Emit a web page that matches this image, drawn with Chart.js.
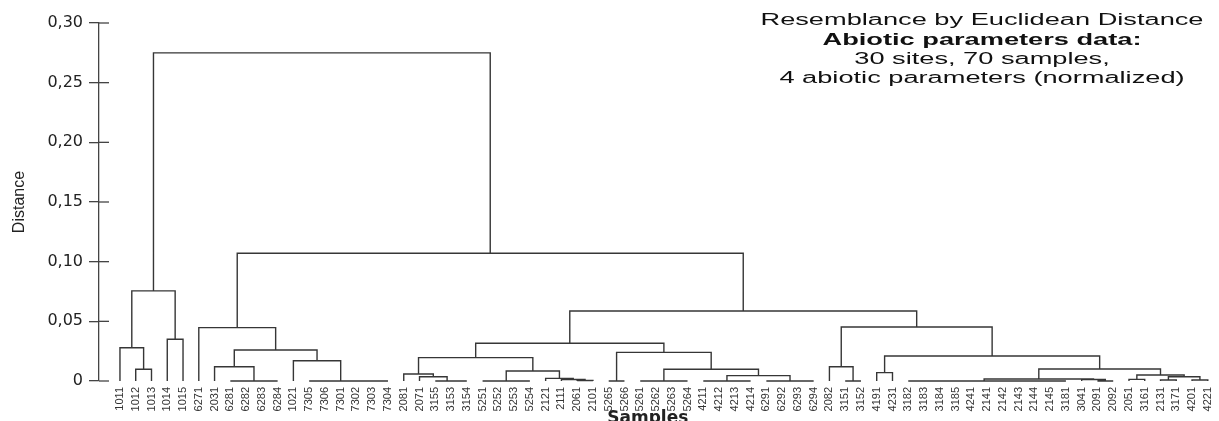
<!DOCTYPE html>
<html><head><meta charset="utf-8">
<script src="https://cdn.jsdelivr.net/npm/chart.js@4"></script>
<style>html,body{margin:0;padding:0;background:#fff}#wrap{width:1219px;height:421px;position:relative}</style>
</head><body><div id="wrap"><canvas id="c"></canvas></div>
<script>
// Leaf order along the x axis (tick labels)
const leafLabels = ["1011","1012","1013","1014","1015","6271","2031","6281","6282","6283","6284","1021",
  "7305","7306","7301","7302","7303","7304","2081","2071","3155","3153","3154","5251","5252","5253","5254",
  "2121","2111","2061","2101","5265","5266","5261","5262","5263","5264","4211","4212","4213","4214",
  "6291","6292","6293","6294","2082","3151","3152","4191","4231","3182","3183","3184","3185","4241",
  "2141","2142","2143","2144","2145","3181","3041","2091","2092","2051","3161","2131","3171","4201","4221"];

// Merges: [left, right, distance]; a string is a leaf, a number is an earlier merge index
const merges = [
  ["1012","1013",0.0098], ["1011",0,0.0279], ["1014","1015",0.035], [1,2,0.0755],
  ["6281","6282",0], ["6283","6284",0], [4,5,0], ["2031",6,0.012],
  ["7305","7306",0], ["7301","7302",0], ["7303","7304",0], [9,10,0], [8,11,0],
  ["1021",12,0.017], [7,13,0.026], ["6271",14,0.0447],
  ["3153","3154",0], ["3155",16,0], ["2071",17,0.0036], ["2081",18,0.0059],
  ["5251","5252",0], ["5253","5254",0], [20,21,0],
  ["2061","2101",0.0004], ["2111",23,0.0013], ["2121",24,0.0022], [22,25,0.0084], [19,26,0.0196],
  ["5265","5266",0], ["5261","5262",0], ["5263","5264",0], [29,30,0],
  ["4211","4212",0], ["4213","4214",0], [32,33,0],
  ["6291","6292",0], ["6293","6294",0], [35,36,0], [34,37,0.0045], [31,38,0.0098],
  [28,39,0.024], [27,40,0.0316],
  ["3151","3152",0], ["2082",42,0.012], ["4191","4231",0.007],
  ["3182","3183",0], ["3185","4241",0], ["3184",46,0], [45,47,0],
  ["2141","2142",0], ["2143","2144",0], ["2145","3181",0], [49,50,0], [52,51,0], [48,53,0],
  ["2091","2092",0], ["3041",55,0.0012], [54,56,0.0017],
  ["2051","3161",0.0014], ["2131","3171",0.0008], ["4201","4221",0.0008], [59,60,0.0036], [58,61,0.005],
  [57,62,0.010], [44,63,0.021], [43,64,0.0453], [41,65,0.0587], [15,66,0.107], [3,67,0.275]
];

const yTickValues = [0,0.05,0.10,0.15,0.20,0.25,0.30];
const titleLines = ["Resemblance by Euclidean Distance","Abiotic parameters data:","30 sites, 70 samples,","4 abiotic parameters (normalized)"];
const yTitle = "Distance";
const xTitle = "Samples";

// Build dendrogram path from the merges
const nodeX = [], nodeH = [];
function ref(r){
  if (typeof r === 'number') return {x: nodeX[r], h: nodeH[r]};
  return {x: leafLabels.indexOf(r), h: 0};
}
const segs = [];
merges.forEach((m,k)=>{
  const a = ref(m[0]), b = ref(m[1]), h = m[2];
  segs.push({x:a.x,y:a.h},{x:a.x,y:h},{x:b.x,y:h},{x:b.x,y:b.h},{x:b.x,y:null});
  nodeX[k] = (a.x+b.x)/2; nodeH[k] = h;
});

const LINE = '#363636';
const tickExt = {id:'tickExt', afterDraw(chart){
  const y = chart.scales.y, c = chart.ctx;
  c.save(); c.strokeStyle = '#444'; c.lineWidth = 1.3;
  y.ticks.forEach(t=>{ const py = y.getPixelForValue(t.value);
    c.beginPath(); c.moveTo(y.right, py); c.lineTo(y.right+10, py); c.stroke(); });
  c.restore();
}};
const titleBlock = {id:'titleBlock', afterDraw(chart){
  const c = chart.ctx;
  const cx = 982, base = [25,44.5,64,83];
  c.save(); c.fillStyle = '#111'; c.textAlign = 'center'; c.textBaseline = 'alphabetic';
  titleLines.forEach((t,i)=>{
    c.save(); c.translate(cx, base[i]); c.scale(1.7,1);
    c.font = (i===1?'bold ':'') + '16px "Liberation Sans", Arial, sans-serif';
    c.fillText(t,0,0); c.restore();
  });
  c.restore();
}};

new Chart(document.getElementById('c'), {
  type: 'scatter',
  data: {datasets: [{data: segs, showLine: true, borderColor: LINE, borderWidth: 1.4,
    pointRadius: 0, pointHoverRadius: 0, spanGaps: false, clip: false, fill: false}]},
  options: {
    responsive: true, maintainAspectRatio: false, animation: false, events: [],
    layout: {padding: {top: 23, right: 0, left: 0, bottom: 0}},
    plugins: {legend: {display: false}, tooltip: {enabled: false}},
    scales: {
      x: {type: 'linear', min: -1.33, max: 68.29,
        afterBuildTicks: s => { s.ticks = leafLabels.map((_,i)=>({value:i})); },
        afterFit: s => { s.height = 40; },
        grid: {display: false}, border: {display: false},
        ticks: {autoSkip: false, minRotation: 90, maxRotation: 90, padding: -2,
          font: {family: '"Liberation Sans", Arial, sans-serif', size: 11}, color: '#333',
          callback: v => leafLabels[v]},
        title: {display: true, text: xTitle, color: '#222',
          font: {family: '"DejaVu Sans", sans-serif', size: 17, weight: 'bold'}, padding: {top: 0, bottom: -8}}
      },
      y: {min: 0, max: 0.3,
        afterBuildTicks: s => { s.ticks = yTickValues.map(v=>({value:v})); },
        afterFit: s => { s.width = 99; },
        grid: {drawOnChartArea: false, drawTicks: true, tickLength: 10, color: '#444', lineWidth: 1.3},
        border: {display: true, color: '#444', width: 1.3},
        ticks: {padding: 6, color: '#222', font: {family: '"DejaVu Sans", sans-serif', size: 16},
          callback: v => v === 0 ? '0' : v.toFixed(2).replace('.', ',')},
        title: {display: true, text: yTitle, color: '#222',
          font: {family: '"Liberation Sans", Arial, sans-serif', size: 16}, padding: {top: 10, bottom: 0}}
      }
    }
  },
  plugins: [tickExt, titleBlock]
});
</script></body></html>
